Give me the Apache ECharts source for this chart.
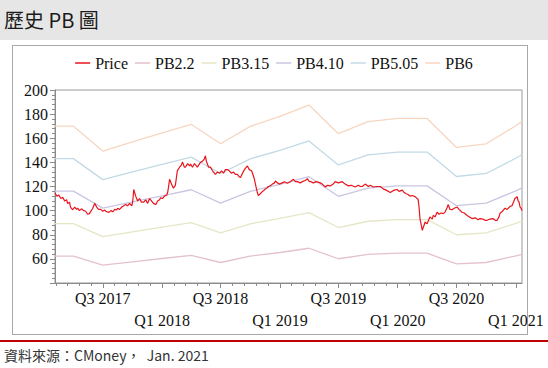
<!DOCTYPE html>
<html><head><meta charset="utf-8">
<script src="https://cdn.jsdelivr.net/npm/echarts@6/dist/echarts.min.js"></script>
<style>
body{margin:0;width:548px;height:368px;position:relative;background:#fff;overflow:hidden;font-family:"Noto Sans CJK TC","Noto Sans",sans-serif}
#band{position:absolute;left:0;top:0;width:548px;height:40px;background:#e6e6e6}
#title{position:absolute;left:4px;top:5px;font-size:20px;color:#1a1a1a;line-height:30px;white-space:pre}
#box{position:absolute;left:12px;top:45px;width:516px;height:290px;border:1px solid #a8a8a8;box-sizing:border-box}
#redline{position:absolute;left:0;top:340px;width:548px;height:2px;background:#c00000}
#foot{position:absolute;left:4px;top:344px;font-size:14px;color:#333;line-height:22px;white-space:pre}
#chart{position:absolute;left:0;top:0;width:548px;height:368px}
</style></head>
<body>
<div id="band"></div><div id="title">歷史 PB 圖</div>
<div id="box"></div>
<div id="redline"></div>
<div id="foot">資料來源：CMoney，  Jan. 2021</div>
<div id="chart"></div>
<script>
// ---- data ----
const seriesNames = ['Price','PB2.2','PB3.15','PB4.10','PB5.05','PB6'];
const yTicks = [40,60,80,100,120,140,160,180,200];
const pbDates = ['2017-02-03','2017-04-01','2017-07-01','2017-10-01','2018-01-01','2018-04-01','2018-07-01','2018-10-01','2019-01-01','2019-04-01','2019-07-01','2019-10-01','2020-01-01','2020-04-01','2020-07-01','2020-10-01','2021-01-01','2021-01-20'];
const pb22  = [62.3,62.3,54.8,57.5,60.3,62.9,57.0,62.3,65.3,68.8,60.1,63.7,64.7,64.7,55.9,57.0,62.5,63.8];
const pb315 = [89.2,89.2,78.4,82.4,86.3,90.1,81.6,89.1,93.6,98.4,86.0,91.2,92.6,92.6,80.0,81.6,89.5,91.4];
const pb410 = [116.2,116.2,102.1,107.2,112.3,117.3,106.2,116.0,121.8,128.1,111.9,118.7,120.5,120.5,104.1,106.2,116.4,118.9];
const pb505 = [143.1,143.1,125.7,132.1,138.4,144.4,130.8,142.9,150.0,157.8,137.9,146.2,148.5,148.5,128.3,130.8,143.4,146.5];
const pb6   = [170.0,170.0,149.4,156.9,164.4,171.6,155.4,169.8,178.2,187.5,163.8,173.7,176.4,176.4,152.4,155.4,170.4,174.0];

const priceDates = ['2017-02-03','2017-02-09','2017-02-15','2017-02-21','2017-02-27','2017-03-05','2017-03-11','2017-03-14','2017-03-20','2017-03-23','2017-03-30','2017-04-05','2017-04-11','2017-04-14','2017-04-20','2017-04-26','2017-05-03','2017-05-09','2017-05-15','2017-05-21','2017-05-24','2017-05-31','2017-06-06','2017-06-12','2017-06-18','2017-06-25','2017-07-01','2017-07-07','2017-07-10','2017-07-20','2017-07-26','2017-08-01','2017-08-07','2017-08-13','2017-08-16','2017-08-22','2017-08-29','2017-09-04','2017-09-10','2017-09-16','2017-09-22','2017-09-29','2017-10-02','2017-10-05','2017-10-11','2017-10-17','2017-10-23','2017-10-29','2017-11-05','2017-11-11','2017-11-17','2017-11-23','2017-11-29','2017-12-05','2017-12-12','2017-12-18','2017-12-24','2017-12-27','2018-01-02','2018-01-08','2018-01-15','2018-01-18','2018-01-21','2018-01-24','2018-01-30','2018-02-05','2018-02-11','2018-02-17','2018-02-24','2018-03-02','2018-03-05','2018-03-11','2018-03-14','2018-03-21','2018-03-27','2018-03-30','2018-04-05','2018-04-11','2018-04-17','2018-04-20','2018-04-27','2018-04-30','2018-05-06','2018-05-12','2018-05-15','2018-05-18','2018-05-25','2018-05-31','2018-06-06','2018-06-12','2018-06-15','2018-06-21','2018-06-28','2018-07-04','2018-07-10','2018-07-16','2018-07-22','2018-07-28','2018-08-04','2018-08-10','2018-08-16','2018-08-22','2018-08-28','2018-09-01','2018-09-07','2018-09-13','2018-09-19','2018-09-22','2018-09-28','2018-10-05','2018-10-08','2018-10-14','2018-10-17','2018-10-23','2018-10-26','2018-11-01','2018-11-08','2018-11-11','2018-11-17','2018-11-23','2018-11-26','2018-12-02','2018-12-09','2018-12-15','2018-12-18','2018-12-24','2018-12-30','2019-01-08','2019-01-15','2019-01-24','2019-02-02','2019-02-12','2019-02-18','2019-02-24','2019-03-05','2019-03-11','2019-03-21','2019-03-27','2019-04-02','2019-04-08','2019-04-14','2019-04-24','2019-05-06','2019-05-12','2019-05-22','2019-05-28','2019-06-06','2019-06-15','2019-06-21','2019-07-01','2019-07-13','2019-07-22','2019-08-01','2019-08-10','2019-08-22','2019-09-01','2019-09-07','2019-09-13','2019-09-22','2019-10-02','2019-10-08','2019-10-17','2019-10-26','2019-11-08','2019-11-17','2019-11-26','2019-12-09','2019-12-15','2019-12-21','2019-12-30','2020-01-05','2020-01-15','2020-01-21','2020-01-27','2020-02-02','2020-02-09','2020-02-15','2020-02-24','2020-03-01','2020-03-04','2020-03-07','2020-03-10','2020-03-14','2020-03-17','2020-03-20','2020-03-26','2020-04-01','2020-04-07','2020-04-10','2020-04-17','2020-04-20','2020-04-26','2020-05-02','2020-05-08','2020-05-14','2020-05-21','2020-05-27','2020-06-02','2020-06-05','2020-06-11','2020-06-17','2020-06-24','2020-07-03','2020-07-09','2020-07-18','2020-07-25','2020-08-03','2020-08-09','2020-08-18','2020-08-28','2020-09-06','2020-09-12','2020-09-21','2020-09-27','2020-10-04','2020-10-13','2020-10-22','2020-10-29','2020-11-04','2020-11-10','2020-11-13','2020-11-19','2020-11-28','2020-12-05','2020-12-14','2020-12-20','2020-12-26','2020-12-29','2021-01-05','2021-01-08','2021-01-11','2021-01-14','2021-01-17','2021-01-20'];
const priceValues = [114.5,112,113,110,111,108,109,106,107,103,100.7,103,101,102,100,101.5,100,99.5,97,97.5,99,102,106,103,101,101,99.5,100.5,99.5,98.5,100,99,101,100.5,102,101,103,104,105,104,106,104,108,117.5,112,108,110,107,107,109,106,110,108,106,105,108,109,110.6,110,112,113,115,120,126,122,118.6,121,133,136,138,140.4,136,136,139,137,138.6,136,139,137,136,139,140,141,143,145.5,141,136,136,133,131,130,132,131,133,131,134,134,133,131,132,130,130,128,127.5,131,134,136,137,134,133,131,126,122,115,112.4,114,116,116.5,118,119,120,120.5,122,123,124.6,123,122,123,124,122.7,124,126,124,124,123,124,125,126.5,124,124,123,124,123,122,119.6,121,120.5,122,124,123,124,122,120.5,121,119.6,121,120,120,122,120,121,119.6,120,120,118,117,115,116,117,117.5,116,117,115,114,113.4,112,112.5,111.6,110,109.5,103,93,88,83.7,86,90.6,89,93,94.8,93,96,95,98.7,97,98,97.5,99,102.6,105,101,100.8,102,103,101,98.7,98,96,95,93.4,94,92.5,93.4,93,92,92,93,93.4,92,92,95,98,99,102,101,103.5,104,108,110,111.5,108,107,103,102,100];

// ---- chart ----
const chart = echarts.init(document.getElementById('chart'), null, {renderer:'svg'});
function ts(s){const p=s.split('-').map(Number);return new Date(p[0],p[1]-1,p[2]).getTime();}
const xMin = ts(pbDates[0]), xMax = ts(pbDates[pbDates.length-1]);
const halfYears = [];
for (let y=2017;y<=2021;y++){ halfYears.push(new Date(y,0,1).getTime()); halfYears.push(new Date(y,6,1).getTime()); }
halfYears.push(new Date(2022,0,1).getTime());
const minorTicks = [];
for (let i=0;i<halfYears.length-1;i++){
  for (let k=0;k<5;k++){ const v = halfYears[i] + (halfYears[i+1]-halfYears[i])*k/5; if (v>=xMin && v<=xMax) minorTicks.push(v); }
}
const majorTicks = halfYears.filter(v=>v>=xMin && v<=xMax);
const serif = '"Liberation Serif","Times New Roman",serif';
const colors = ['#e8141c','#e4c2ca','#e6e6c6','#c8c6e2','#c2dae6','#f7d6c0'];
const pbSets = [pb22,pb315,pb410,pb505,pb6];

const series = [{
  name:'Price', type:'line', xAxisIndex:0, showSymbol:false, symbol:'none', z:5,
  lineStyle:{color:colors[0], width:1.2}, itemStyle:{color:colors[0]},
  data: priceDates.map((d,i)=>[ts(d), priceValues[i]])
}];
pbSets.forEach((arr,j)=>{
  series.push({name:seriesNames[j+1], type:'line', xAxisIndex:0, showSymbol:false, symbol:'none', z:2,
    lineStyle:{color:colors[j+1], width:1.3}, itemStyle:{color:colors[j+1]},
    data: pbDates.map((d,i)=>[ts(d), arr[i]])});
});

chart.setOption({
  animation:false,
  color: colors,
  grid:{left:55, right:26, top:90, bottom:85, show:true, borderColor:'#9a9a9a', borderWidth:1, backgroundColor:'transparent'},
  legend:{top:50, left:'center', icon:'rect', itemWidth:15, itemHeight:1.5, itemGap:7,
    textStyle:{fontFamily:serif, fontSize:16, color:'#111'}, data:seriesNames},
  xAxis:[{
    type:'value', min:xMin, max:xMax, position:'bottom',
    axisLine:{show:true, lineStyle:{color:'#8a8a8a'}},
    axisTick:{show:true, length:3, customValues:minorTicks, lineStyle:{color:'#8a8a8a'}},
    axisLabel:{show:false}, splitLine:{show:false}
  },{
    type:'value', min:xMin, max:xMax, position:'bottom', offset:0,
    axisLine:{show:false},
    axisTick:{show:true, length:5, customValues:majorTicks, lineStyle:{color:'#8a8a8a'}},
    axisLabel:{show:true, customValues:majorTicks, margin:4, fontFamily:serif, fontSize:16, color:'#111', lineHeight:22,
      formatter:function(v){const d=new Date(v);return d.getMonth()===6?('Q3 '+d.getFullYear()):('\nQ1 '+d.getFullYear());}},
    splitLine:{show:false}
  }],
  yAxis:{
    type:'value', min:yTicks[0], max:yTicks[yTicks.length-1], interval:20,
    axisLine:{show:true, lineStyle:{color:'#8a8a8a'}},
    axisTick:{show:true, length:5, lineStyle:{color:'#8a8a8a'}},
    minorTick:{show:true, splitNumber:5, length:3, lineStyle:{color:'#8a8a8a'}},
    axisLabel:{showMinLabel:false, margin:7, fontFamily:serif, fontSize:16, color:'#111'},
    splitLine:{show:false}
  },
  series: series
});
</script>
</body></html>
